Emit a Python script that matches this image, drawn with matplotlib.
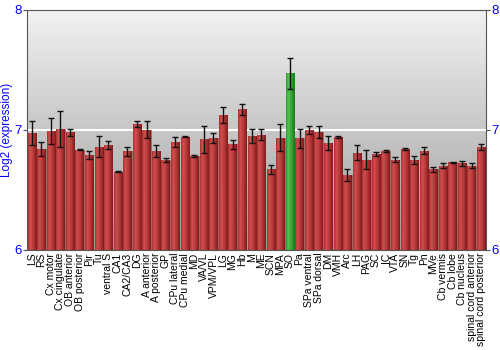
import numpy as np
import matplotlib
matplotlib.use("Agg")
import matplotlib.pyplot as plt
from matplotlib.colors import LinearSegmentedColormap

plt.rcParams['font.family'] = ['Liberation Sans', 'DejaVu Sans']

# Data
regions = ["LS", "RS", "Cx motor", "Cx cingulate", "OB anterior", "OB posterior",
           "Pir", "Tu", "ventral S", "CA1", "CA2/CA3", "DG", "A anterior",
           "A posterior", "GP", "CPu lateral", "CPu medial", "MD", "VA/VL",
           "VPM/VPL", "LG", "MG", "Hb", "M", "ME", "SCN", "MPA", "SO", "Pa",
           "SPa ventral", "SPa dorsal", "DM", "VMH", "Arc", "LH", "PAG", "SC",
           "IC", "VTA", "SN", "Tg", "Pn", "MVe", "Cb vermis", "Cb lobe",
           "Cb nucleus", "spinal cord anterior", "spinal cord posterior"]
expression = [6.97, 6.84, 6.99, 7.01, 6.98, 6.835, 6.79, 6.86, 6.875, 6.65,
              6.82, 7.05, 7.00, 6.82, 6.75, 6.90, 6.94, 6.78, 6.92, 6.93,
              7.12, 6.88, 7.17, 6.95, 6.96, 6.67, 6.935, 7.47, 6.93, 7.00,
              6.98, 6.89, 6.94, 6.62, 6.81, 6.75, 6.80, 6.825, 6.75, 6.84,
              6.75, 6.825, 6.67, 6.70, 6.73, 6.72, 6.70, 6.86]
errors = [0.10, 0.06, 0.11, 0.15, 0.03, 0.005, 0.035, 0.09, 0.035, 0.004,
          0.04, 0.025, 0.07, 0.05, 0.017, 0.04, 0.004, 0.01, 0.115, 0.04,
          0.067, 0.036, 0.045, 0.057, 0.047, 0.04, 0.115, 0.13, 0.08, 0.035,
          0.05, 0.06, 0.01, 0.05, 0.065, 0.08, 0.015, 0.01, 0.02, 0.01,
          0.035, 0.03, 0.02, 0.02, 0.005, 0.02, 0.02, 0.025]
highlight = "SO"

base = 6
x = np.arange(len(regions))
vals = np.array(expression)

fig = plt.figure(figsize=(5, 3.5), dpi=100)
ax = fig.add_axes([27 / 500, 100 / 350, 459 / 500, 240.5 / 350])
ax.set_xlim(-0.5, len(regions) - 0.5)
ax.set_ylim(6, 8)

# background gradient, light at top
bg = np.linspace(0, 1, 256).reshape(-1, 1)
bg_cmap = LinearSegmentedColormap.from_list("bg", ["#f2f2f2", "#9c9c9c"])
ax.imshow(bg, extent=[-0.5, len(regions) - 0.5, 6, 8], cmap=bg_cmap,
          aspect="auto", zorder=0)
ax.axhline(7, color="white", lw=1.5, zorder=1)

red_cmap = LinearSegmentedColormap.from_list(
    "red", [(0, "#a83030"), (0.25, "#d05050"), (0.6, "#b83838"), (1, "#7c1c1c")])
green_cmap = LinearSegmentedColormap.from_list(
    "green", [(0, "#2f9a2f"), (0.25, "#52c252"), (0.6, "#36a636"), (1, "#1e761e")])

bars = ax.bar(x, vals - base, bottom=base, width=0.88, color="#b83838",
              edgecolor="#8a6a6a", linewidth=0.5, zorder=2)
grad = np.linspace(0, 1, 64).reshape(1, -1)
for name, b in zip(regions, bars):
    cm = green_cmap if name == highlight else red_cmap
    if name == highlight:
        b.set_facecolor("#36a636")
        b.set_edgecolor("#5a8a5a")
    im = ax.imshow(grad, extent=[b.get_x(), b.get_x() + b.get_width(),
                                 b.get_y(), b.get_y() + b.get_height()],
                   cmap=cm, aspect="auto", zorder=2.5)
    im.set_clip_path(b)

ax.errorbar(x, vals, yerr=errors, fmt="none", ecolor="#111111", elinewidth=1,
            capsize=2.5, capthick=1, zorder=3)

ax.set_xticks(x)
ax.set_xticklabels(regions, rotation=90, fontsize=7.5)
ax.tick_params(axis="x", length=0, pad=2)
ax.set_yticks([6, 7, 8])
ax.tick_params(axis="y", colors="#555555", labelcolor="blue", labelsize=9.5,
               length=3, left=True, right=True, labelleft=True, labelright=True,
               pad=1)
ax.set_ylabel("Log2 (expression)", color="blue", fontsize=8.5, labelpad=1)
for s in ax.spines.values():
    s.set_color("#555555")
    s.set_linewidth(0.8)

fig.savefig("out.png", dpi=100)
